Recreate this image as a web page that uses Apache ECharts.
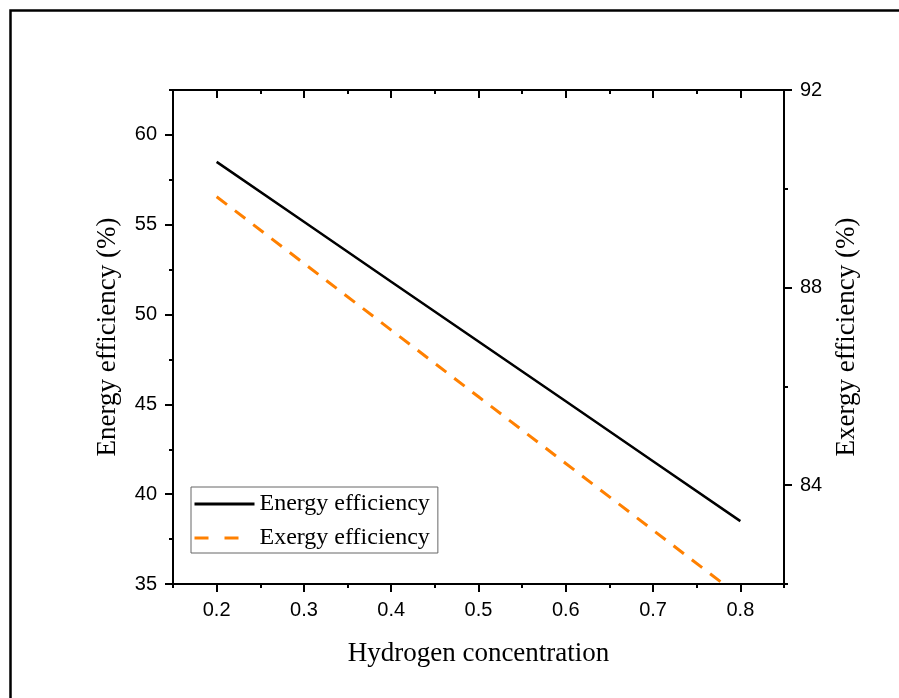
<!DOCTYPE html>
<html>
<head>
<meta charset="utf-8">
<script src="https://cdn.jsdelivr.net/npm/echarts@6/dist/echarts.min.js"></script>
<style>
html,body{margin:0;padding:0;background:#fff;}
#chart{width:899px;height:698px;}
</style>
</head>
<body>
<div id="chart"></div>
<script>
// ---- data ----
const hydrogen = [0.2, 0.3, 0.4, 0.5, 0.6, 0.7, 0.8];
const energyEff = [58.5, 55.17, 51.83, 48.5, 45.17, 41.83, 38.5];
const exergyEff = [89.84, 88.49, 87.14, 85.79, 84.44, 83.09, 81.74];
const xMajorTicks = [0.2, 0.3, 0.4, 0.5, 0.6, 0.7, 0.8];
const xMinorTicks = [0.15, 0.25, 0.35, 0.45, 0.55, 0.65, 0.75, 0.85];
const yLeftMajor = [35, 40, 45, 50, 55, 60];
const yLeftMinor = [37.5, 42.5, 47.5, 52.5, 57.5, 62.5];
const yRightMajor = [84, 88, 92];
const yRightMinor = [82, 86, 90];

const serif = '"Liberation Serif","Times New Roman",serif';
const sans = '"Liberation Sans",Arial,sans-serif';
const axisLine = {show: true, lineStyle: {color: '#000', width: 2}};

function xAx(pos, ticks, len, inside, labels, name) {
  return {
    type: 'value', position: pos, min: 0.15, max: 0.85,
    axisLine: axisLine,
    axisTick: {show: true, inside: inside, length: len, customValues: ticks, lineStyle: {color: '#000', width: 2}},
    axisLabel: labels ? {show: true, customValues: ticks, color: '#000', fontFamily: sans, fontSize: 20, margin: 16,
      formatter: v => v.toFixed(1)} : {show: false},
    splitLine: {show: false},
    name: name || '', nameLocation: 'middle', nameGap: 56,
    nameTextStyle: {fontFamily: serif, fontSize: 27, color: '#000'}
  };
}
function yAx(pos, min, max, ticks, len, labels, name, nameGap) {
  return {
    type: 'value', position: pos, min: min, max: max,
    axisLine: axisLine,
    axisTick: {show: true, inside: false, length: len, customValues: ticks, lineStyle: {color: '#000', width: 2}},
    axisLabel: labels ? {show: true, customValues: ticks, color: '#000', fontFamily: sans, fontSize: 20, margin: 16} : {show: false},
    splitLine: {show: false},
    name: name || '', nameLocation: 'middle', nameGap: nameGap || 0,
    nameTextStyle: {fontFamily: serif, fontSize: 27, color: '#000'}
  };
}

const chart = echarts.init(document.getElementById('chart'), null, {renderer: 'canvas'});
chart.setOption({
  backgroundColor: '#fff',
  animation: false,
  grid: {left: 173, right: 115, top: 90, bottom: 114},
  graphic: [{
    type: 'rect', shape: {x: 10.5, y: 10.5, width: 1000, height: 1000},
    style: {fill: 'none', stroke: '#000', lineWidth: 2.5}, silent: true, z: 100
  }],
  legend: {
    orient: 'vertical', left: 191, top: 487,
    padding: [5, 8, 3, 2], itemGap: 10, itemWidth: 60, itemHeight: 16,
    borderColor: '#666', borderWidth: 1,
    itemStyle: {opacity: 0},
    lineStyle: {width: 3},
    textStyle: {fontFamily: serif, fontSize: 24, color: '#000'},
    data: [
      {name: 'Energy efficiency'},
      {name: 'Exergy efficiency', lineStyle: {width: 3, type: [14, 16]}}
    ]
  },
  xAxis: [
    xAx('bottom', xMajorTicks, 8, false, true, 'Hydrogen concentration'),
    xAx('bottom', xMinorTicks, 4, false, false),
    xAx('top', xMajorTicks, 8, true, false),
    xAx('top', xMinorTicks, 4, true, false)
  ],
  yAxis: [
    yAx('left', 35, 62.5, yLeftMajor, 8, true, 'Energy efficiency (%)', 52),
    yAx('left', 35, 62.5, yLeftMinor, 4, false),
    yAx('right', 82, 92, yRightMajor, 8, true, 'Exergy efficiency (%)', 46),
    yAx('right', 82, 92, yRightMinor, 4, false)
  ],
  series: [
    {
      name: 'Energy efficiency', type: 'line', xAxisIndex: 0, yAxisIndex: 0,
      data: hydrogen.map((x, i) => [x, energyEff[i]]),
      symbol: 'none', clip: true,
      lineStyle: {color: '#000', width: 2.5}, itemStyle: {color: '#000'}
    },
    {
      name: 'Exergy efficiency', type: 'line', xAxisIndex: 0, yAxisIndex: 2,
      data: hydrogen.map((x, i) => [x, exergyEff[i]]),
      symbol: 'none', clip: true,
      lineStyle: {color: '#FF8000', width: 3, type: [13, 10]}, itemStyle: {color: '#FF8000'}
    }
  ]
});
</script>
</body>
</html>
